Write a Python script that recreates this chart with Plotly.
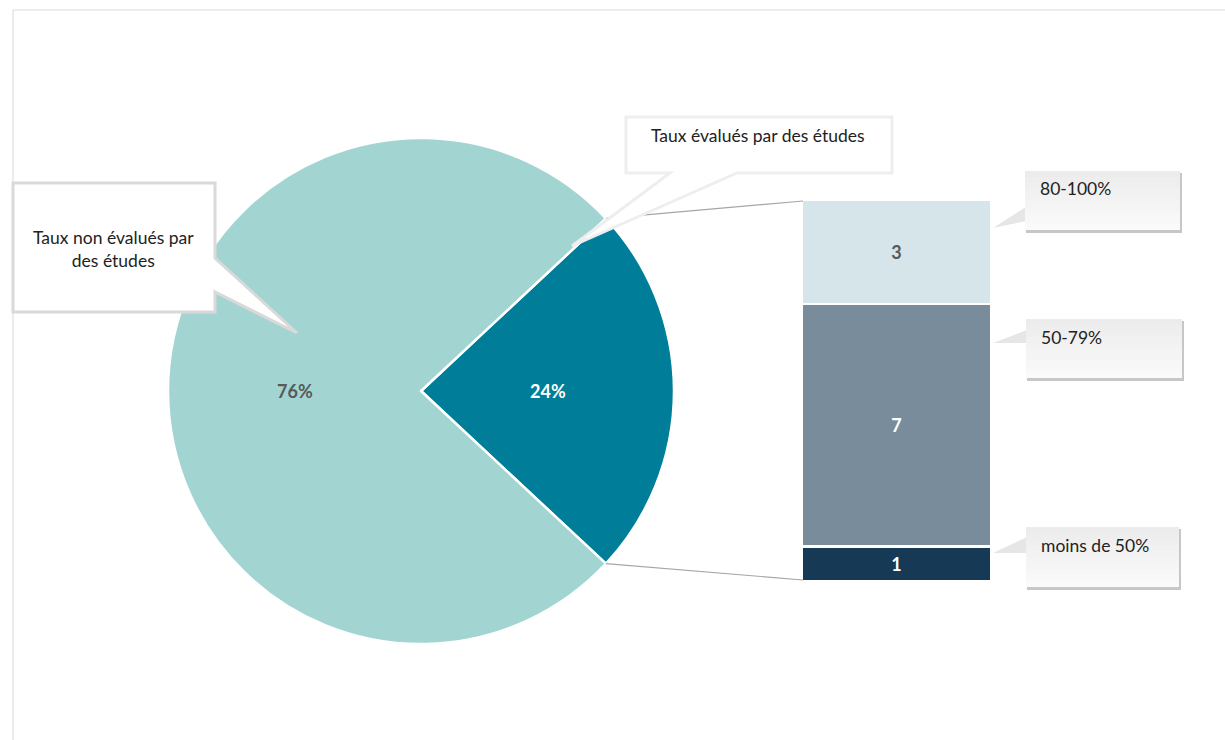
import math
import plotly.graph_objects as go

# ---- data ----
pie_labels = ["Taux évalués par des études", "Taux non évalués par des études"]
pie_values = [11, 35]
pie_colors = ["#007d99", "#a2d5d2"]
pie_text_colors = ["#ffffff", "#595959"]

bar_labels = ["moins de 50%", "50-79%", "80-100%"]   # bottom to top
bar_values = [1, 7, 3]
bar_colors = ["#163a56", "#788c9c", "#d6e5ea"]
bar_text_colors = ["#ffffff", "#ffffff", "#595959"]

W, H = 1225, 740
FONT = "Lato"
LABEL_SIZE = 17.5
VALUE_SIZE = 18


def fx(x):
    return x / W


def fy(y):
    return 1 - y / H


# pie placement (pixels)
PIE_CX, PIE_CY, PIE_R = 421, 391, 253
# bar placement (pixels)
BAR_X0, BAR_X1, BAR_TOP, BAR_BOTTOM = 803, 990, 201, 580

total = sum(pie_values)
frac_eval = pie_values[0] / total
# evaluated slice centred at 3 o'clock
rotation = 90 - 180 * frac_eval

fig = go.Figure()

fig.add_trace(go.Pie(
    labels=pie_labels,
    values=pie_values,
    sort=False,
    direction="clockwise",
    rotation=rotation,
    marker=dict(colors=pie_colors, line=dict(color="#ffffff", width=2.5)),
    textinfo="none",
    hoverinfo="label+percent",
    domain=dict(x=[fx(PIE_CX - PIE_R), fx(PIE_CX + PIE_R)],
                y=[fy(PIE_CY + PIE_R), fy(PIE_CY - PIE_R)]),
    showlegend=False,
))

# percentage labels at half radius along each slice's bisector
start = rotation
annotations = []
for v, c in zip(pie_values, pie_text_colors):
    span = 360 * v / total
    mid = math.radians(start + span / 2)
    lx = PIE_CX + 0.5 * PIE_R * math.sin(mid)
    ly = PIE_CY - 0.5 * PIE_R * math.cos(mid)
    annotations.append(dict(
        x=fx(lx), y=fy(ly), xref="paper", yref="paper",
        xanchor="center", yanchor="middle",
        text=f"<b>{round(100 * v / total)}%</b>", showarrow=False,
        font=dict(family=FONT, size=VALUE_SIZE, color=c)))
    start += span

for lab, v, col, tc in zip(bar_labels, bar_values, bar_colors, bar_text_colors):
    fig.add_trace(go.Bar(
        x=[0], y=[v], name=lab, width=1,
        marker=dict(color=col, line=dict(color="#ffffff", width=2.5)),
        text=[f"<b>{v}</b>"], textposition="inside", insidetextanchor="middle",
        textangle=0, textfont=dict(family=FONT, size=VALUE_SIZE, color=tc),
        xaxis="x2", yaxis="y2", showlegend=False,
    ))

# connector lines from the evaluated slice edges to the bar
half = math.radians(180 * frac_eval)
ex = PIE_CX + PIE_R * math.cos(half)
ey_top = PIE_CY - PIE_R * math.sin(half)
ey_bot = PIE_CY + PIE_R * math.sin(half)

shapes = [
    dict(type="rect", xref="paper", yref="paper",
         x0=fx(13), y0=fy(10), x1=fx(1240), y1=fy(760),
         line=dict(color="#d9d9d9", width=1), fillcolor="rgba(0,0,0,0)", layer="below"),
    dict(type="line", xref="paper", yref="paper",
         x0=fx(ex), y0=fy(ey_top), x1=fx(BAR_X0), y1=fy(BAR_TOP),
         line=dict(color="#a6a6a6", width=1.2), layer="above"),
    dict(type="line", xref="paper", yref="paper",
         x0=fx(ex), y0=fy(ey_bot), x1=fx(BAR_X0), y1=fy(BAR_BOTTOM),
         line=dict(color="#a6a6a6", width=1.2), layer="above"),
]


def path(points):
    return "M " + " L ".join(f"{fx(x):.5f},{fy(y):.5f}" for x, y in points) + " Z"


# white speech bubbles over the pie
shapes.append(dict(
    type="path", xref="paper", yref="paper",
    path=path([(13, 183), (215, 183), (215, 258), (297, 333), (215, 292),
               (215, 312), (13, 312)]),
    fillcolor="#ffffff", line=dict(color="#d9d9d9", width=3), layer="above"))
shapes.append(dict(
    type="path", xref="paper", yref="paper",
    path=path([(626, 117), (892, 117), (892, 173), (737, 173), (572, 246),
               (670, 173), (626, 173)]),
    fillcolor="#ffffff", line=dict(color="#eeeeee", width=3), layer="above"))

annotations.append(dict(
    x=fx(113), y=fy(249), xref="paper", yref="paper", showarrow=False,
    xanchor="center", yanchor="middle",
    text="Taux non évalués par<br>des études", align="center",
    font=dict(family=FONT, size=LABEL_SIZE, color="#222222")))
annotations.append(dict(
    x=fx(758), y=fy(135), xref="paper", yref="paper", showarrow=False,
    xanchor="center", yanchor="middle",
    text="Taux évalués par des études", align="center",
    font=dict(family=FONT, size=LABEL_SIZE, color="#222222")))

# grey callouts for the bar segments
callouts = [
    ("80-100%", (1025, 171, 1180, 230), (207, 221, 228)),
    ("50-79%", (1026, 319, 1182, 378), (330, 343, 343)),
    ("moins de 50%", (1026, 527, 1179, 587), (537, 553, 553)),
]
for text, (x0, y0, x1, y1), (wa, wb, tip) in callouts:
    # drop shadow
    shapes.append(dict(type="rect", xref="paper", yref="paper",
                       x0=fx(x0 + 1), y0=fy(y1 + 3), x1=fx(x1 + 2), y1=fy(y0 + 2),
                       fillcolor="rgba(0,0,0,0.22)", line=dict(width=0), layer="above"))
    shapes.append(dict(type="path", xref="paper", yref="paper",
                       path=path([(x0 + 1, wa), (993, tip), (x0 + 1, wb)]),
                       fillcolor="#e6e6e6", line=dict(width=0), layer="above"))
    # vertical gradient body: overlapping bands, each running to the bottom
    n = 10
    for i in range(n):
        t = i / (n - 1)
        g = int(round(236 + (250 - 236) * t))
        ya = y0 + (y1 - y0) * i / n
        shapes.append(dict(type="rect", xref="paper", yref="paper",
                           x0=fx(x0), x1=fx(x1), y0=fy(y1), y1=fy(ya),
                           fillcolor=f"rgb({g},{g},{g})", line=dict(width=0),
                           layer="above"))
    annotations.append(dict(
        x=fx(x0 + 13), y=fy(y0 + 18), xref="paper", yref="paper", showarrow=False,
        xanchor="left", yanchor="middle", text=text,
        font=dict(family=FONT, size=LABEL_SIZE, color="#222222")))

fig.update_layout(
    width=W, height=H,
    margin=dict(l=0, r=0, t=0, b=0),
    paper_bgcolor="#ffffff", plot_bgcolor="rgba(0,0,0,0)",
    barmode="stack",
    xaxis2=dict(domain=[fx(BAR_X0 - 1), fx(BAR_X1 + 1)], range=[-0.5, 0.5],
                visible=False, anchor="y2", fixedrange=True),
    yaxis2=dict(domain=[fy(BAR_BOTTOM + 1), fy(BAR_TOP - 1)], range=[0, sum(bar_values)],
                visible=False, anchor="x2", fixedrange=True),
    xaxis=dict(visible=False), yaxis=dict(visible=False),
    shapes=shapes,
    annotations=annotations,
    font=dict(family=FONT),
)

fig.write_html("out.html")
